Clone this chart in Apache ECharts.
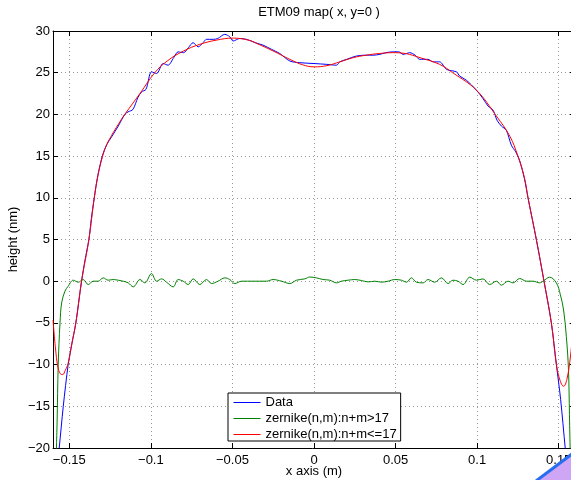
<!DOCTYPE html>
<html>
<head>
<meta charset="utf-8">
<script src="https://cdn.jsdelivr.net/npm/echarts@6/dist/echarts.min.js"></script>
<style>
html,body{margin:0;padding:0;background:#fff;}
#chart{width:571px;height:480px;}
</style>
</head>
<body>
<div id="chart"></div>
<script>
// ---- data ----
const titleText = 'ETM09 map( x, y=0 )';
const xName = 'x axis (m)';
const yName = 'height (nm)';
const seriesNames = ['Data', 'zernike(n,m):n+m>17', 'zernike(n,m):n+m<=17'];

const dataX = [-0.1585,-0.1562,-0.1537,-0.1507,-0.1484,-0.1460,-0.1425,-0.1404,-0.1380,-0.1365,-0.1347,-0.1325,-0.1296,-0.1270,-0.1241,-0.1200,-0.1160,-0.1140,-0.1110,-0.1080,-0.1057,-0.1030,-0.0996,-0.0965,-0.0925,-0.0895,-0.0860,-0.0833,-0.0800,-0.0770,-0.0741,-0.0710,-0.0680,-0.0659,-0.0618,-0.0590,-0.0547,-0.0516,-0.0496,-0.0455,-0.0414,-0.0360,-0.0312,-0.0260,-0.0210,-0.0148,-0.0087,0.0000,0.0077,0.0138,0.0158,0.0200,0.0260,0.0320,0.0362,0.0404,0.0440,0.0485,0.0520,0.0546,0.0587,0.0620,0.0648,0.0699,0.0730,0.0770,0.0812,0.0873,0.0893,0.0934,0.0996,0.1036,0.1067,0.1098,0.1122,0.1149,0.1179,0.1210,0.1237,0.1260,0.1290,0.1312,0.1363,0.1410,0.1455,0.1486,0.1512,0.1540,0.1560];
const dataY = [-24,-20,-15,-10,-7.5,-5,0,2.5,5,7.5,10,12.7,15.1,16.4,17.3,18.6,20.0,20.3,20.6,22.0,22.7,23.0,25.1,24.9,26.1,25.9,26.8,27.5,27.4,28.0,28.6,28.1,28.6,29.0,29.0,29.1,29.6,29.3,28.8,29.1,29.0,28.6,28.3,27.8,27.3,26.4,26.2,26.1,26.0,25.9,26.3,26.6,27.0,27.1,27.1,27.2,27.4,27.5,27.5,27.2,27.4,27.1,26.6,26.6,26.3,26.3,25.4,25.1,24.6,24.1,22.9,21.9,21.0,20.5,19.3,18.6,18.1,16.3,15.5,14.5,12.3,10,5,0,-5,-10,-14.2,-20,-24];

const highX = [-0.1582,-0.1575,-0.1568,-0.1557,-0.1547,-0.1527,-0.1507,-0.1476,-0.1445,-0.1415,-0.1384,-0.1353,-0.1323,-0.1292,-0.1262,-0.1231,-0.1200,-0.1170,-0.1139,-0.1108,-0.1067,-0.1037,-0.0996,-0.0965,-0.0934,-0.0904,-0.0863,-0.0833,-0.0802,-0.0771,-0.0741,-0.0700,-0.0659,-0.0628,-0.0588,-0.0547,-0.0516,-0.0485,-0.0444,-0.0373,-0.0291,-0.0251,-0.0199,-0.0148,-0.0107,-0.0056,-0.0026,0.0015,0.0056,0.0097,0.0138,0.0168,0.0209,0.0250,0.0291,0.0332,0.0373,0.0414,0.0454,0.0495,0.0536,0.0567,0.0597,0.0628,0.0669,0.0699,0.0740,0.0781,0.0822,0.0852,0.0883,0.0914,0.0955,0.0996,0.1036,0.1077,0.1118,0.1149,0.1189,0.1220,0.1261,0.1302,0.1343,0.1384,0.1404,0.1445,0.1486,0.1510,0.1530,0.1547,0.1560,0.1566,0.1572];
const highY = [-22,-17,-10,-5,-2.6,-1.2,-0.6,0.12,-0.12,0.2,-0.4,0,0,0.4,0.12,0.2,0.12,0,-0.2,-0.68,0.2,-0.2,0.92,0,0.28,-0.12,-0.68,0.2,0,-0.4,0.28,-0.4,0.2,-0.28,0,0.4,0.2,-0.28,0,0,0,0.2,0,-0.28,0.12,0.28,0.5,0.4,0.2,0.12,-0.2,0,0.12,0.2,0.08,-0.08,0,-0.12,0,0.2,0.12,-0.12,0.4,-0.12,-0.2,0.2,-0.12,0.4,-0.28,0.12,0,-0.4,0.48,0.12,0.28,-0.4,0,-0.48,0,-0.2,0.32,0,0,-0.2,0,0.48,-0.2,-1.6,-3.45,-6.65,-10.6,-16,-22];

const lowX = [-0.1600,-0.1585,-0.1570,-0.1555,-0.1541,-0.1525,-0.1507,-0.1485,-0.1460,-0.1425,-0.1380,-0.1347,-0.1325,-0.1296,-0.1270,-0.1240,-0.1200,-0.1160,-0.1067,-0.0976,-0.0900,-0.0800,-0.0700,-0.0600,-0.0496,-0.0400,-0.0350,-0.0250,-0.0148,-0.0070,0.0000,0.0080,0.0158,0.0240,0.0320,0.0400,0.0480,0.0560,0.0650,0.0770,0.0850,0.0996,0.1118,0.1200,0.1250,0.1290,0.1312,0.1363,0.1410,0.1455,0.1486,0.1510,0.1530,0.1550,0.1573,0.1600];
const lowY = [-4.65,-8.0,-10.3,-11.1,-11.2,-10.7,-9.85,-7.5,-5,0,5,10,12.6,15,16.4,17.5,18.8,20,22.5,25,26.4,27.6,28.4,28.9,29.15,28.9,28.5,27.6,26.6,25.95,25.7,25.85,26.3,26.8,27.1,27.3,27.4,27.3,26.8,26.0,25.0,22.9,19.8,17.4,15,12.4,10,5,0,-5,-10,-12.0,-12.6,-11.8,-8.85,-3.5];

const xTickLabels = {'-0.15':'\u22120.15','-0.1':'\u22120.1','-0.05':'\u22120.05','0':'0','0.05':'0.05','0.1':'0.1','0.15':'0.15'};
const yTickLabels = {'30':'30','25':'25','20':'20','15':'15','10':'10','5':'5','0':'0','-5':'\u22125','-10':'\u221210','-15':'\u221215','-20':'\u221220'};

// ---- chart ----
const zip = (xs, ys) => xs.map((x, i) => [x, ys[i]]);
const FONT = '"Liberation Sans", Arial, Helvetica, sans-serif';
const chart = echarts.init(document.getElementById('chart'), null, {renderer: 'canvas'});

const tickCommon = {show: true, inside: true, length: 5, lineStyle: {color: '#000', width: 1}};
const lineCommon = {show: true, onZero: false, lineStyle: {color: '#000', width: 1}};
const gridLine = {show: true, lineStyle: {color: '#9a9a9a', width: 1, type: [1, 3]}};

const fmtX = v => { const k = String(parseFloat(v.toFixed(4))); return xTickLabels[k] !== undefined ? xTickLabels[k] : ''; };
const fmtY = v => { const k = String(parseFloat(v.toFixed(4))); return yTickLabels[k] !== undefined ? yTickLabels[k] : ''; };

chart.setOption({
  animation: false,
  backgroundColor: '#fff',
  textStyle: {fontFamily: FONT},
  title: {
    text: titleText, left: 314, top: 1, textAlign: 'center',
    textStyle: {fontFamily: FONT, fontSize: 13, fontWeight: 'normal', color: '#000'}
  },
  grid: {left: 53, top: 31, width: 522, height: 417, containLabel: false, outerBoundsMode: 'none'},
  legend: {
    data: seriesNames,
    orient: 'vertical',
    left: 228, top: 393,
    itemWidth: 27, itemHeight: 14, itemGap: 3,
    padding: [3, 4, 0, 5],
    backgroundColor: '#fff',
    borderColor: '#000', borderWidth: 1, borderRadius: 0,
    itemStyle: {opacity: 0},
    lineStyle: {width: 1},
    textStyle: {fontFamily: FONT, fontSize: 13, color: '#000'},
    selectedMode: false
  },
  xAxis: [
    {
      type: 'value', min: -0.16, max: 0.16, position: 'bottom',
      axisLine: lineCommon, axisTick: tickCommon,
      axisLabel: {show: true, margin: 6, showMinLabel: false, showMaxLabel: false, formatter: fmtX,
                  fontFamily: FONT, fontSize: 13, color: '#000'},
      splitLine: gridLine,
      name: xName, nameLocation: 'middle', nameGap: 17, nameMoveOverlap: false,
      nameTextStyle: {fontFamily: FONT, fontSize: 13, color: '#000'}
    },
    {
      type: 'value', min: -0.16, max: 0.16, position: 'top',
      axisLine: lineCommon, axisTick: tickCommon,
      axisLabel: {show: false}, splitLine: {show: false}
    }
  ],
  yAxis: [
    {
      type: 'value', min: -20, max: 30, interval: 5, position: 'left',
      axisLine: lineCommon, axisTick: tickCommon,
      axisLabel: {show: true, margin: 3, formatter: fmtY, fontFamily: FONT, fontSize: 13, color: '#000'},
      splitLine: gridLine,
      name: yName, nameLocation: 'middle', nameGap: 33, nameMoveOverlap: false,
      nameTextStyle: {fontFamily: FONT, fontSize: 13, color: '#000'}
    },
    {
      type: 'value', min: -20, max: 30, interval: 5, position: 'right',
      axisLine: lineCommon, axisTick: tickCommon,
      axisLabel: {show: false}, splitLine: {show: false}
    }
  ],
  series: [
    {name: seriesNames[0], type: 'line', data: zip(dataX, dataY), showSymbol: false, symbol: 'none', smooth: 0.3,
     lineStyle: {color: '#0000ff', width: 1}, itemStyle: {color: '#0000ff'}, z: 2, clip: true},
    {name: seriesNames[1], type: 'line', data: zip(highX, highY), showSymbol: false, symbol: 'none', smooth: 0.35,
     lineStyle: {color: '#008000', width: 1}, itemStyle: {color: '#008000'}, z: 3, clip: true},
    {name: seriesNames[2], type: 'line', data: zip(lowX, lowY), showSymbol: false, symbol: 'none', smooth: 0.4,
     lineStyle: {color: '#ff0000', width: 1}, itemStyle: {color: '#ff0000'}, z: 4, clip: true}
  ],
  graphic: [
    {type: 'polygon', shape: {points: [[536, 480], [571, 454], [571, 480]]},
     style: {fill: '#cfa6f6'}, z: 100},
    {type: 'line', shape: {x1: 536, y1: 481, x2: 572, y2: 454},
     style: {stroke: '#2a6ef0', lineWidth: 3}, z: 101}
  ]
});
</script>
</body>
</html>
